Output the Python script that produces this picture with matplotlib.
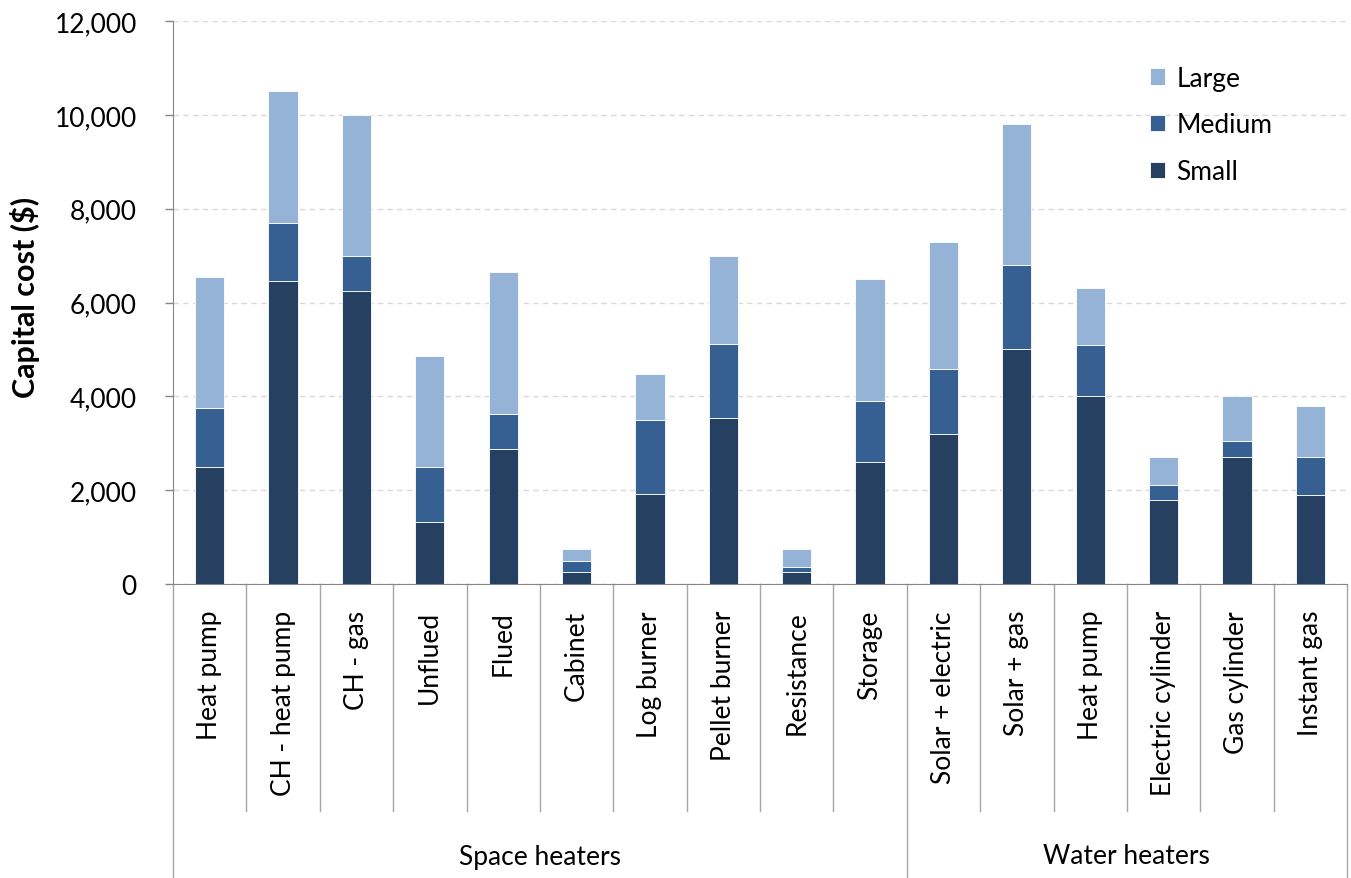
import matplotlib
matplotlib.use("Agg")
import matplotlib.pyplot as plt
from matplotlib.lines import Line2D
import matplotlib.transforms as mtransforms
import numpy as np

plt.rcParams['font.family'] = ['Lato', 'DejaVu Sans']

categories = ["Heat pump", "CH - heat pump", "CH - gas", "Unflued", "Flued",
              "Cabinet", "Log burner", "Pellet burner", "Resistance", "Storage",
              "Solar + electric", "Solar + gas", "Heat pump", "Electric cylinder",
              "Gas cylinder", "Instant gas"]
groups = ["Space heaters", "Water heaters"]
group_sizes = [10, 6]

# cumulative heights of each size band
small_top = [2500, 6450, 6250, 1320, 2880, 250, 1920, 3540, 250, 2600,
             3200, 5000, 4000, 1800, 2700, 1900]
medium_top = [3750, 7700, 7000, 2500, 3630, 500, 3500, 5120, 370, 3900,
              4580, 6800, 5100, 2100, 3050, 2700]
large_top = [6550, 10500, 10000, 4850, 6650, 750, 4470, 7000, 750, 6500,
             7280, 9800, 6300, 2700, 4000, 3800]

small = np.array(small_top)
medium = np.array(medium_top) - small
large = np.array(large_top) - np.array(medium_top)

c_small = "#264061"
c_medium = "#376092"
c_large = "#95B3D7"

FS = 19

fig = plt.figure(figsize=(13.51, 8.79), dpi=100)
ax = fig.add_axes([173 / 1351, 1 - 585 / 879, (1347 - 173) / 1351, (585 - 22) / 879])

x = np.arange(len(categories))
w = 0.4
kw = dict(width=w, edgecolor="white", linewidth=0.6, zorder=3)
b1 = ax.bar(x, small, color=c_small, label="Small", **kw)
b2 = ax.bar(x, medium, bottom=small, color=c_medium, label="Medium", **kw)
b3 = ax.bar(x, large, bottom=small + medium, color=c_large, label="Large", **kw)

ax.set_xlim(-0.5, len(categories) - 0.5)
ax.set_ylim(0, 12000)
ax.set_yticks(np.arange(0, 12001, 2000))
ax.set_yticklabels([f"{v:,}" for v in range(0, 12001, 2000)], fontsize=FS)
ax.tick_params(axis='y', length=6, width=1, color="#868686", pad=20)
ax.set_xticks([])
ax.yaxis.grid(True, linestyle=(0, (4, 3)), color="#d9d9d9", linewidth=1, zorder=0)

for side in ["top", "right"]:
    ax.spines[side].set_visible(False)
ax.spines["left"].set_color("#868686")
ax.spines["bottom"].set_color("#868686")

ax_w = 1347 - 173
ax_h = 585 - 22
ax.set_ylabel("Capital cost ($)", fontsize=22, fontweight="bold")
ax.yaxis.set_label_coords(-(173 - 40) / ax_w, (585 - 297) / ax_h)

# category labels and separators under the axis
trans = mtransforms.blended_transform_factory(ax.transData, ax.transAxes)
cat_bottom = -(812 - 585) / ax_h
grp_bottom = -(879 - 585) / ax_h - 0.01
label_top = -(611 - 585) / ax_h
for i, name in enumerate(categories):
    ax.text(i, label_top, name, rotation=90, ha="center", va="top",
            fontsize=FS, transform=trans)

group_edges = np.concatenate([[0], np.cumsum(group_sizes)]) - 0.5
for b in range(len(categories) + 1):
    xb = b - 0.5
    yb = grp_bottom if np.any(np.isclose(group_edges, xb)) else cat_bottom
    ax.add_line(Line2D([xb, xb], [0, yb], transform=trans, color="#a6a6a6",
                       linewidth=1, clip_on=False))

grp_label_y = -(857 - 585) / ax_h
for g, (lo, hi) in enumerate(zip(group_edges[:-1], group_edges[1:])):
    ax.text((lo + hi) / 2, grp_label_y, groups[g], ha="center", va="center",
            fontsize=FS, transform=trans)

leg = fig.legend(handles=[b3, b2, b1], labels=["Large", "Medium", "Small"],
                 loc="upper left", bbox_to_anchor=(1126 / 1351, 1 - 43 / 879),
                 frameon=False, fontsize=FS, handlelength=0.57, handleheight=0.57,
                 handletextpad=0.45, labelspacing=0.82)

fig.savefig("out.png", dpi=100)
